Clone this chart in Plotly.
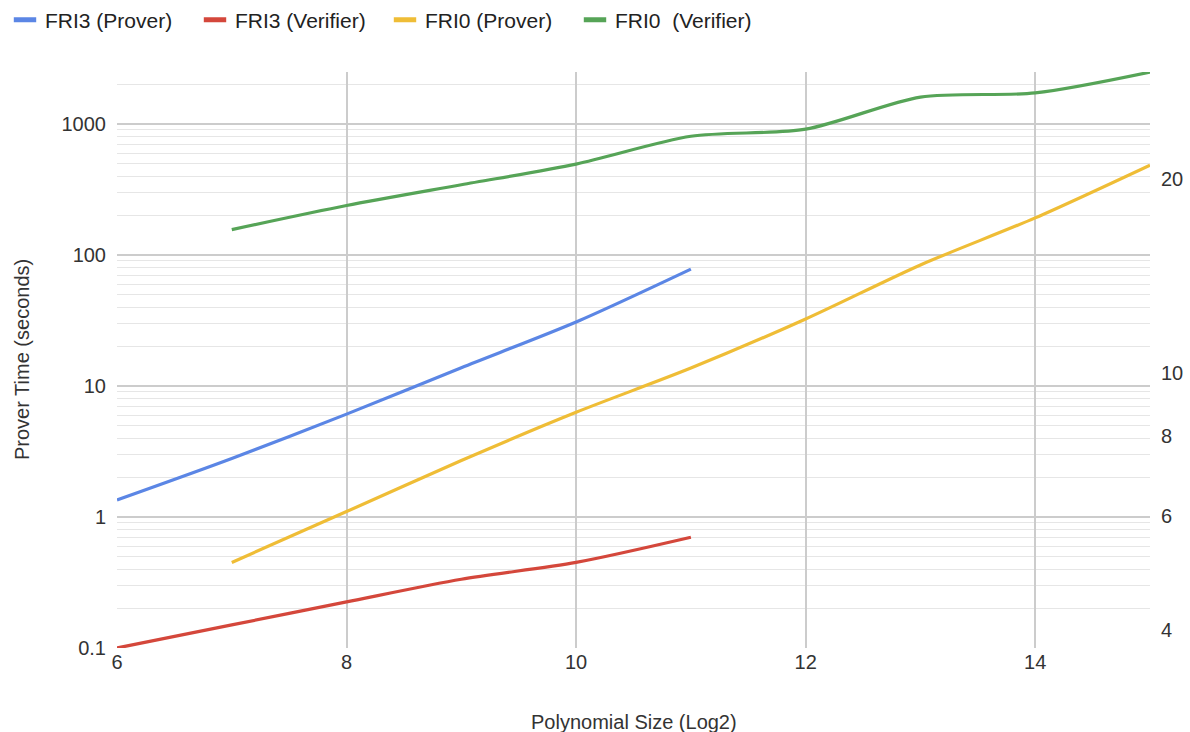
import math
import plotly.graph_objects as go

# ---- data ----
x_fri3 = [6, 7, 8, 9, 10, 11]
fri3_prover = [1.35, 2.8, 6.1, 13.8, 30.8, 78]
fri3_verifier = [0.1, 0.15, 0.225, 0.335, 0.45, 0.70]

x_fri0 = [7, 8, 9, 10, 11, 12, 13, 14, 15]
fri0_prover = [0.45, 1.1, 2.7, 6.3, 13.7, 32.5, 84, 192, 485]
fri0_verifier = [16.7, 18.2, 19.6, 21.1, 23.3, 23.9, 26.8, 27.2, 29.3]  # right axis

series_names = ["FRI3 (Prover)", "FRI3 (Verifier)", "FRI0 (Prover)", "FRI0  (Verifier)"]
colors = ["#5b86e5", "#d4473b", "#efbd36", "#56a457"]

x_ticks = [6, 8, 10, 12, 14]
left_ticks = [0.1, 1, 10, 100, 1000]
left_tick_text = ["0.1", "1", "10", "100", "1000"]
right_ticks = [4, 6, 8, 10, 20]

x_title = "Polynomial Size (Log2)"
y_title = "Prover Time (seconds)"

left_minor = []
for dec in [0.1, 1, 10, 100, 1000]:
    for m in range(2, 10):
        v = dec * m
        if v < 2500:
            left_minor.append(round(v, 6))

FONT = "Liberation Sans, Arial, sans-serif"
W, H = 1190, 732
ML, MR, MT, MB = 117, 40, 72, 84
PW, PH = W - ML - MR, H - MT - MB

fig = go.Figure()
line_kw = dict(width=3.2, shape="spline", smoothing=0.8)
data_sets = [
    (x_fri3, fri3_prover, "y"),
    (x_fri3, fri3_verifier, "y"),
    (x_fri0, fri0_prover, "y"),
    (x_fri0, fri0_verifier, "y2"),
]
for (xs, ys, ax), name, col in zip(data_sets, series_names, colors):
    fig.add_trace(go.Scatter(x=xs, y=ys, name=name, mode="lines", yaxis=ax,
                             line=dict(color=col, **line_kw), showlegend=False))
# legend swatches (Google-style short bars)
for name, col in zip(series_names, colors):
    fig.add_trace(go.Scatter(x=[None], y=[None], name=name, mode="markers",
                             marker=dict(symbol="line-ew", size=20,
                                         line=dict(color=col, width=6)),
                             showlegend=True))

fig.update_layout(
    width=W, height=H,
    paper_bgcolor="white", plot_bgcolor="white",
    font=dict(family=FONT, size=20, color="#333333"),
    margin=dict(l=ML, r=MR, t=MT, b=MB, autoexpand=False),
    showlegend=True,
    legend=dict(orientation="h", xref="container", yref="paper",
                x=5 / W, y=1 + (MT - 20) / PH, xanchor="left", yanchor="middle",
                font=dict(size=21, color="#222222"),
                entrywidth=145, entrywidthmode="pixels", itemwidth=30,
                bgcolor="rgba(0,0,0,0)"),
    xaxis=dict(range=[6, 15], tickvals=x_ticks, showgrid=True, gridcolor="#cccccc",
               gridwidth=1.5, zeroline=False, showline=False, ticks="",
               automargin=False),
    yaxis=dict(type="log", range=[-1, math.log10(2494)], tickvals=left_ticks,
               ticktext=left_tick_text, showgrid=True, gridcolor="#cccccc", gridwidth=1.5,
               zeroline=False, showline=False, ticks="", ticklabelstandoff=10,
               minor=dict(tickvals=left_minor, showgrid=True, gridcolor="#e6e6e6",
                          gridwidth=1.2, ticks=""),
               automargin=False),
    yaxis2=dict(type="log", overlaying="y", side="right",
                range=[math.log10(3.75), math.log10(3.75) + 0.893],
                tickvals=right_ticks, ticktext=[str(v) for v in right_ticks],
                showgrid=False, zeroline=False, showline=False, ticks="",
                ticklabelstandoff=10, automargin=False),
    annotations=[
        dict(text=x_title, xref="paper", yref="paper", x=0.5, y=-(722 - (MT + PH)) / PH,
             xanchor="center", yanchor="middle", showarrow=False,
             font=dict(size=20, color="#333333")),
        dict(text=y_title, xref="paper", yref="paper", x=(22 - ML) / PW, y=0.5,
             xanchor="center", yanchor="middle", textangle=-90, showarrow=False,
             font=dict(size=20, color="#333333")),
    ],
)

fig.write_html("out.html", config={"displayModeBar": False},
               post_script="document.body.style.margin='0';document.body.style.overflow='hidden';")
